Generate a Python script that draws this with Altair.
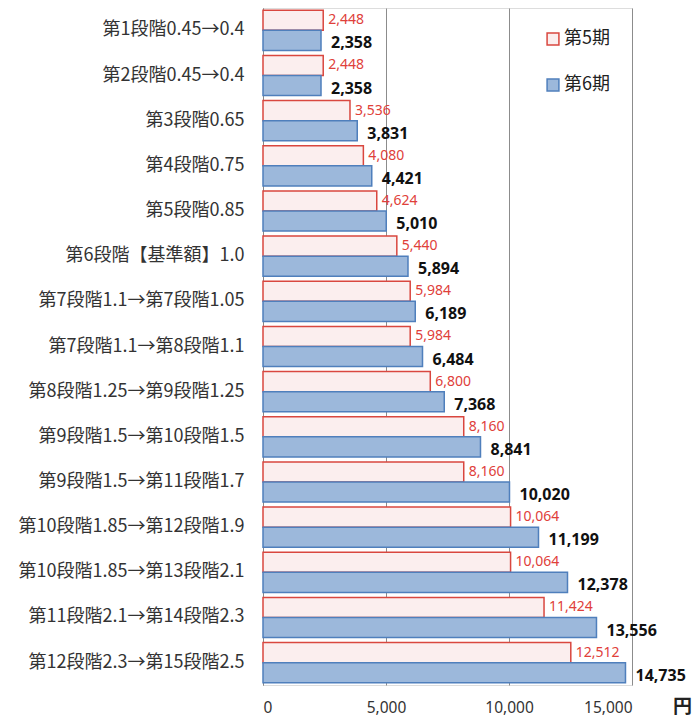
import altair as alt
import pandas as pd

categories = [
    "第1段階0.45→0.4",
    "第2段階0.45→0.4",
    "第3段階0.65",
    "第4段階0.75",
    "第5段階0.85",
    "第6段階【基準額】1.0",
    "第7段階1.1→第7段階1.05",
    "第7段階1.1→第8段階1.1",
    "第8段階1.25→第9段階1.25",
    "第9段階1.5→第10段階1.5",
    "第9段階1.5→第11段階1.7",
    "第10段階1.85→第12段階1.9",
    "第10段階1.85→第13段階2.1",
    "第11段階2.1→第14段階2.3",
    "第12段階2.3→第15段階2.5",
]
period5 = [2448, 2448, 3536, 4080, 4624, 5440, 5984, 5984, 6800, 8160, 8160, 10064, 10064, 11424, 12512]
period6 = [2358, 2358, 3831, 4421, 5010, 5894, 6189, 6484, 7368, 8841, 10020, 11199, 12378, 13556, 14735]
periods = ["第5期", "第6期"]
x_ticks = [0, 5000, 10000, 15000]

rows = []
for c, v5, v6 in zip(categories, period5, period6):
    rows.append({"category": c, "period": periods[0], "value": v5})
    rows.append({"category": c, "period": periods[1], "value": v6})
df = pd.DataFrame(rows)

FONT = "Noto Sans CJK JP"
NUMFONT = "Noto Sans"

y_enc = alt.Y("category:N", sort=categories,
              scale=alt.Scale(paddingInner=0.11, paddingOuter=0.05),
              axis=alt.Axis(title=None, labelFontSize=18, labelColor="#333333",
                            labelFont=FONT, ticks=False, labelPadding=19,
                            domainColor="#888888", labelLimit=300))
yoff = alt.YOffset("period:N", sort=periods, scale=alt.Scale(paddingInner=0, paddingOuter=0))

x_enc = alt.X("value:Q", scale=alt.Scale(domain=[0, 15000], nice=False),
              axis=alt.Axis(values=x_ticks, format=",d", title="円",
                            labelFontSize=15.5, labelColor="#333333", labelFont=NUMFONT,
                            labelPadding=15, ticks=False, domain=False,
                            gridColor="#8c8c8c", gridWidth=1,
                            titleFontSize=19, titleFontWeight="bold", titleFont=FONT,
                            titleColor="#222222", titleAngle=0, titleAlign="center",
                            titleBaseline="middle", titleX=419, titleY=21))

bars = alt.Chart(df).mark_bar(strokeWidth=1.5).encode(
    y=y_enc,
    yOffset=yoff,
    x=x_enc,
    fill=alt.Fill("period:N", sort=periods, title=None,
                  scale=alt.Scale(domain=periods, range=["#fbeeee", "#9cb8db"]),
                  legend=alt.Legend(orient="none", legendX=281, legendY=22,
                                    symbolType="square", symbolSize=140,
                                    labelFontSize=18, labelFont=FONT, labelColor="#222222",
                                    rowPadding=28, symbolStrokeWidth=1.5, labelOffset=2)),
    stroke=alt.Stroke("period:N", sort=periods, title=None,
                      scale=alt.Scale(domain=periods, range=["#d9473f", "#4f7fbc"])),
)

lab5 = alt.Chart(df).transform_filter(alt.datum.period == periods[0]).mark_text(
    align="left", baseline="middle", dx=5, fontSize=14, color="#e0403a", font=NUMFONT
).encode(
    y=y_enc, yOffset=yoff,
    x=x_enc, text=alt.Text("value:Q", format=",d")
)

lab6 = alt.Chart(df).transform_filter(alt.datum.period == periods[1]).mark_text(
    align="left", baseline="middle", dx=10, dy=3, fontSize=16, fontWeight="bold",
    color="#111111", font=NUMFONT
).encode(
    y=y_enc, yOffset=yoff,
    x=x_enc, text=alt.Text("value:Q", format=",d")
)

chart = alt.layer(bars, lab5, lab6).properties(
    width=369, height=677,
    autosize=alt.AutoSizeParams(type="none"),
    padding={"left": 263, "top": 8, "right": 61, "bottom": 32},
).configure_view(stroke=None).configure(background="white")

chart.save("out.html", embed_options={"renderer": "svg", "actions": False})
